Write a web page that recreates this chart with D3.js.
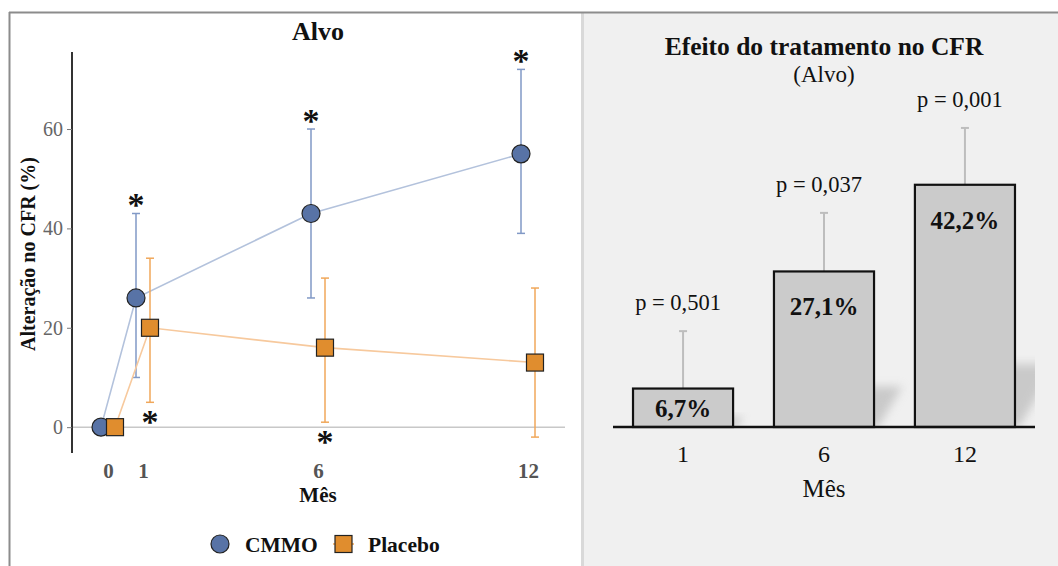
<!DOCTYPE html>
<html>
<head>
<meta charset="utf-8">
<script src="https://cdn.jsdelivr.net/npm/d3@7"></script>
<style>
  body { margin: 0; background: #fff; }
  svg { display: block; }
  svg text { font-family: "Liberation Serif", "Times New Roman", serif; }
</style>
</head>
<body>
<svg id="chart" width="1058" height="566" font-family="Liberation Serif"></svg>
<script>
// ---- Left panel: change in CFR over time ----
const months = [0, 1, 6, 12];
const cmmoMean = [0, 26, 43, 55];
const cmmoLow = [0, 10, 26, 39];
const cmmoHigh = [0, 43, 60, 72];
const cmmoSig = [false, true, true, true];
const placeboMean = [0, 20, 16, 13];
const placeboLow = [0, 5, 1, -2];
const placeboHigh = [0, 34, 30, 28];
const placeboSig = [false, true, true, false];
const yTicks = [0, 20, 40, 60];
const seriesNames = ["CMMO", "Placebo"];

// ---- Right panel: treatment effect ----
const effectMonths = ["1", "6", "12"];
const effectValues = [6.7, 27.1, 42.2];
const effectUpper = [16.7, 37.3, 52.1];
const effectLabels = ["6,7%", "27,1%", "42,2%"];
const pValues = ["p = 0,501", "p = 0,037", "p = 0,001"];

const SERIF = "Liberation Serif";
const svg = d3.select("#chart");

// panel frame
svg.append("rect").attr("x", 583).attr("y", 13).attr("width", 475).attr("height", 553).attr("fill", "#f0f0f0");
svg.append("line").attr("x1", 582.5).attr("x2", 582.5).attr("y1", 13).attr("y2", 566)
  .attr("stroke", "#d9d9d9").attr("stroke-width", 3);
svg.append("line").attr("x1", 9).attr("x2", 1058).attr("y1", 12.5).attr("y2", 12.5)
  .attr("stroke", "#8c8c8c").attr("stroke-width", 2);
svg.append("line").attr("x1", 9.5).attr("x2", 9.5).attr("y1", 12).attr("y2", 566)
  .attr("stroke", "#8c8c8c").attr("stroke-width", 2);

// ================= left panel =================
const x = d3.scaleLinear().domain([0, 12]).range([101, 521]);
const y = d3.scaleLinear().domain([-5.2, 75.5]).range([453, 52]);
const dodge = 14;

const colors = {
  CMMO: { fill: "#5873a6", line: "#b3c2dc", err: "#8199c6" },
  Placebo: { fill: "#e08d2e", line: "#f7c99d", err: "#f0a75a" }
};

const L = svg.append("g");

L.append("text").attr("x", 318).attr("y", 40).attr("text-anchor", "middle").attr("font-family", SERIF)
  .attr("font-weight", "bold").attr("font-size", 26).attr("fill", "#111").text("Alvo");

// zero reference line
L.append("line").attr("x1", 72).attr("x2", 565).attr("y1", y(0)).attr("y2", y(0))
  .attr("stroke", "#c8c8c8").attr("stroke-width", 1.5);

// y axis
const yAxis = d3.axisLeft(y).tickValues(yTicks).tickSize(5).tickPadding(4);
const yg = L.append("g").attr("transform", "translate(72,0)").call(yAxis);
yg.attr("font-family", SERIF);
yg.select(".domain").attr("d", `M0,${y.range()[1]}V${y.range()[0]}`).attr("stroke", "#333").attr("stroke-width", 2);
yg.selectAll(".tick line").attr("stroke", "#777");
yg.selectAll(".tick text").attr("font-size", 20).attr("fill", "#666").attr("font-family", SERIF);

// x axis labels (no axis line)
const xAxis = d3.axisBottom(d3.scaleLinear().domain(x.domain()).range(x.range().map(v => v + dodge / 2)))
  .tickValues(months).tickSize(0).tickPadding(0).tickFormat(d3.format("d"));
const xg = L.append("g").attr("transform", "translate(0,463)").call(xAxis);
xg.attr("font-family", SERIF);
xg.select(".domain").remove();
xg.selectAll(".tick text").attr("font-size", 21).attr("font-weight", "bold").attr("fill", "#555")
  .attr("font-family", SERIF);

L.append("text").attr("x", 318).attr("y", 502).attr("text-anchor", "middle").attr("font-family", SERIF)
  .attr("font-weight", "bold").attr("font-size", 21).attr("fill", "#111").text("Mês");

L.append("text").attr("transform", "translate(35,254) rotate(-90)").attr("text-anchor", "middle")
  .attr("font-family", SERIF).attr("font-weight", "bold").attr("font-size", 20).attr("fill", "#111")
  .text("Alteração no CFR (%)");

const series = [
  { name: "CMMO", mean: cmmoMean, low: cmmoLow, high: cmmoHigh, sig: cmmoSig, off: 0 },
  { name: "Placebo", mean: placeboMean, low: placeboLow, high: placeboHigh, sig: placeboSig, off: dodge }
];

const line = d3.line().x(d => d.px).y(d => y(d.v));
series.forEach(s => {
  const pts = months.map((m, i) => ({ px: x(m) + s.off, v: s.mean[i], lo: s.low[i], hi: s.high[i], sig: s.sig[i] }));
  const c = colors[s.name];
  const g = L.append("g");
  g.append("path").datum(pts).attr("d", line).attr("fill", "none").attr("stroke", c.line).attr("stroke-width", 1.6);
  const eb = g.selectAll(".eb").data(pts.filter(p => p.hi !== p.lo)).join("g");
  eb.append("line").attr("x1", p => p.px).attr("x2", p => p.px).attr("y1", p => y(p.lo)).attr("y2", p => y(p.hi))
    .attr("stroke", c.err).attr("stroke-width", 1.5);
  eb.append("line").attr("x1", p => p.px - 4).attr("x2", p => p.px + 4).attr("y1", p => y(p.lo)).attr("y2", p => y(p.lo))
    .attr("stroke", c.err).attr("stroke-width", 1.5);
  eb.append("line").attr("x1", p => p.px - 4).attr("x2", p => p.px + 4).attr("y1", p => y(p.hi)).attr("y2", p => y(p.hi))
    .attr("stroke", c.err).attr("stroke-width", 1.5);
  s.pts = pts;
});

// markers drawn above all lines
series.forEach(s => {
  const c = colors[s.name];
  if (s.name === "CMMO") {
    L.selectAll(null).data(s.pts).join("circle").attr("cx", p => p.px).attr("cy", p => y(p.v)).attr("r", 9)
      .attr("fill", c.fill).attr("stroke", "#222").attr("stroke-width", 1.2);
  } else {
    L.selectAll(null).data(s.pts).join("rect").attr("x", p => p.px - 8.5).attr("y", p => y(p.v) - 8.5)
      .attr("width", 17).attr("height", 17).attr("fill", c.fill).attr("stroke", "#222").attr("stroke-width", 1.2);
  }
});

// significance asterisks
series.forEach(s => {
  L.selectAll(null).data(s.pts.filter(p => p.sig)).join("text")
    .attr("x", p => p.px)
    .attr("y", p => s.name === "CMMO" ? y(p.hi) + 3 : y(p.lo) + 31)
    .attr("text-anchor", "middle").attr("font-size", 34).attr("font-weight", "bold")
    .attr("font-family", "DejaVu Sans").attr("fill", "#111").text("*");
});

// legend
const lg = L.append("g");
lg.append("circle").attr("cx", 220).attr("cy", 544).attr("r", 9).attr("fill", colors.CMMO.fill)
  .attr("stroke", "#222").attr("stroke-width", 1.2);
lg.append("text").attr("x", 245).attr("y", 551.5).attr("font-family", SERIF).attr("font-weight", "bold")
  .attr("font-size", 21.5).attr("fill", "#111").text(seriesNames[0]);
lg.append("line").attr("x1", 333).attr("x2", 354).attr("y1", 544).attr("y2", 544)
  .attr("stroke", colors.Placebo.err).attr("stroke-width", 1.5);
lg.append("rect").attr("x", 335).attr("y", 535.5).attr("width", 17).attr("height", 17)
  .attr("fill", colors.Placebo.fill).attr("stroke", "#222").attr("stroke-width", 1.2);
lg.append("text").attr("x", 368).attr("y", 551.5).attr("font-family", SERIF).attr("font-weight", "bold")
  .attr("font-size", 21.5).attr("fill", "#111").text(seriesNames[1]);

// ================= right panel =================
const R = svg.append("g").attr("font-family", SERIF);
const xb = d3.scaleBand().domain(effectMonths).range([613, 1035]).paddingInner(0.29).paddingOuter(0.142);
const yb = d3.scaleLinear().domain([0, 60]).range([427, 427 - 60 * 5.74]);

const defs = svg.append("defs");
defs.append("filter").attr("id", "soft").attr("x", "-50%").attr("y", "-50%").attr("width", "200%").attr("height", "200%")
  .append("feGaussianBlur").attr("stdDeviation", 5);
defs.append("clipPath").attr("id", "plotclip").append("rect")
  .attr("x", 613).attr("y", 60).attr("width", 422).attr("height", 367);

R.append("text").attr("x", 824).attr("y", 55).attr("text-anchor", "middle").attr("font-family", SERIF)
  .attr("font-weight", "bold").attr("font-size", 25.5).attr("fill", "#111").text("Efeito do tratamento no CFR");
R.append("text").attr("x", 824).attr("y", 82).attr("text-anchor", "middle").attr("font-family", SERIF)
  .attr("font-size", 23).attr("fill", "#111").text("(Alvo)");

const bars = effectMonths.map((m, i) => ({ m, v: effectValues[i], up: effectUpper[i], lab: effectLabels[i], p: pValues[i] }));

// soft cast shadows behind the bars
R.append("g").attr("clip-path", "url(#plotclip)").selectAll("path").data(bars).join("path")
  .attr("d", d => {
    const x0 = xb(d.m) + 10, x1 = xb(d.m) + xb.bandwidth();
    const h = (yb(0) - yb(d.v)) * 0.26, s = h * 0.6;
    return `M${x0},${yb(0)}L${x1 + 4},${yb(0)}L${x1 + 4 + s},${yb(0) - h}L${x0 + s},${yb(0) - h}Z`;
  })
  .attr("fill", "#aaaaaa").attr("opacity", 0.55).attr("filter", "url(#soft)");

// error whiskers
R.selectAll(".whisk").data(bars).join("line").attr("class", "whisk")
  .attr("x1", d => xb(d.m) + xb.bandwidth() / 2).attr("x2", d => xb(d.m) + xb.bandwidth() / 2)
  .attr("y1", d => yb(d.v)).attr("y2", d => yb(d.up)).attr("stroke", "#bdbdbd").attr("stroke-width", 2);
R.selectAll(".cap").data(bars).join("line").attr("class", "cap")
  .attr("x1", d => xb(d.m) + xb.bandwidth() / 2 - 4).attr("x2", d => xb(d.m) + xb.bandwidth() / 2 + 4)
  .attr("y1", d => yb(d.up)).attr("y2", d => yb(d.up)).attr("stroke", "#bdbdbd").attr("stroke-width", 2);

R.selectAll(".bar").data(bars).join("rect").attr("class", "bar")
  .attr("x", d => xb(d.m)).attr("y", d => yb(d.v)).attr("width", xb.bandwidth()).attr("height", d => yb(0) - yb(d.v))
  .attr("fill", "#cbcbcb").attr("stroke", "#111").attr("stroke-width", 2.2);

R.selectAll(".val").data(bars).join("text").attr("class", "val").attr("font-family", SERIF)
  .attr("x", d => xb(d.m) + xb.bandwidth() / 2)
  .attr("y", d => (yb(0) - yb(d.v)) < 60 ? (yb(d.v) + yb(0)) / 2 + 9 : yb(d.v) + 44)
  .attr("text-anchor", "middle").attr("font-weight", "bold").attr("font-size", 25).attr("fill", "#111")
  .text(d => d.lab);

R.selectAll(".pv").data(bars).join("text").attr("class", "pv").attr("font-family", SERIF)
  .attr("x", d => xb(d.m) + xb.bandwidth() / 2 - 5).attr("y", d => yb(d.up) - 21)
  .attr("text-anchor", "middle").attr("font-size", 22.5).attr("fill", "#111").text(d => d.p);

// baseline axis
R.append("line").attr("x1", 613).attr("x2", 1035).attr("y1", yb(0)).attr("y2", yb(0))
  .attr("stroke", "#111").attr("stroke-width", 2.5);
const xbAxis = d3.axisBottom(xb).tickSize(0).tickPadding(0);
const xbg = R.append("g").attr("transform", `translate(0,${yb(0) + 35})`).call(xbAxis);
xbg.attr("font-family", SERIF);
xbg.select(".domain").remove();
xbg.selectAll(".tick text").attr("font-size", 24).attr("fill", "#111").attr("font-family", SERIF)
  .attr("dy", 0);
R.append("text").attr("x", 824).attr("y", 497).attr("text-anchor", "middle").attr("font-family", SERIF)
  .attr("font-size", 25).attr("fill", "#111").text("Mês");
</script>
</body>
</html>
